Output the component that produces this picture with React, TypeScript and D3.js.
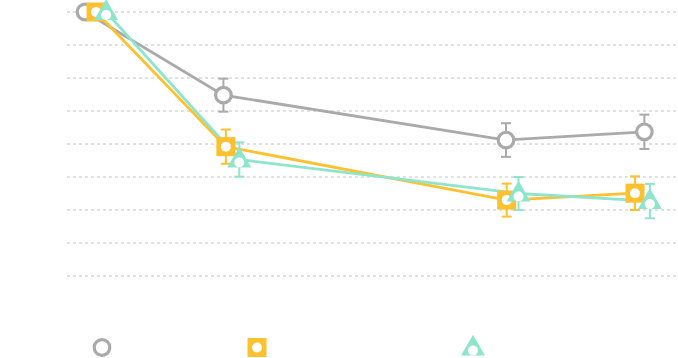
import React from "react";
import * as d3 from "d3";

const gridValues = [0, 1, 2, 3, 4, 5, 6, 7, 8];

const greyX = [2.95, 25.6, 71.85, 94.5];
const greyY = [8.0, 5.48, 4.12, 4.37];
const greyErr = [0, 0.5, 0.51, 0.52];

const yellowX = [4.75, 26.0, 71.96, 92.96];
const yellowY = [8.0, 3.92, 2.3, 2.51];
const yellowErr = [0, 0.52, 0.5, 0.51];

const tealX = [6.4, 28.2, 73.9, 95.4];
const tealY = [8.0, 3.53, 2.5, 2.27];
const tealErr = [0, 0.52, 0.5, 0.52];

const seriesNames = ["A", "B", "C"];
const colors = ["#aaaaaa", "#fdc12f", "#8ee5cc"];

const W = 678;
const H = 358;

export default function App() {
  const x = d3.scaleLinear().domain([0, 100]).range([67, 678]);
  const y = d3.scaleLinear().domain([0, 8]).range([276, 12]);

  const series = [
    { name: seriesNames[0], xs: greyX, ys: greyY, err: greyErr, color: colors[0], shape: "circle" },
    { name: seriesNames[1], xs: yellowX, ys: yellowY, err: yellowErr, color: colors[1], shape: "square" },
    { name: seriesNames[2], xs: tealX, ys: tealY, err: tealErr, color: colors[2], shape: "triangle" },
  ];

  const line = d3
    .line<[number, number]>()
    .x((d) => x(d[0]))
    .y((d) => y(d[1]));

  const marker = (shape: string, color: string, cx: number, cy: number, key: string) => {
    if (shape === "circle") {
      return (
        <circle key={key} cx={cx} cy={cy} r={7.8} fill="#fff" stroke={color} strokeWidth={3.2} />
      );
    }
    if (shape === "square") {
      return (
        <g key={key}>
          <rect x={cx - 9.5} y={cy - 9.5} width={19} height={19} fill={color} />
          <circle cx={cx} cy={cy} r={5} fill="#fff" />
        </g>
      );
    }
    const tri = d3.symbol().type(d3.symbolTriangle).size(250)();
    return (
      <g key={key}>
        <path d={tri || ""} transform={`translate(${cx},${cy + 1})`} fill={color} />
        <circle cx={cx} cy={cy + 3} r={5} fill="#fff" />
      </g>
    );
  };

  const legendX = [102, 257, 473];
  const legendY = 347.5;

  return (
    <div style={{ position: "fixed", left: 0, top: 0 }}>
      <svg width={W} height={H} style={{ display: "block" }}>
        <rect width={W} height={H} fill="#fff" />
        {gridValues.map((g) => (
          <line
            key={g}
            x1={67}
            x2={678}
            y1={y(g)}
            y2={y(g)}
            stroke="#c4c4c4"
            strokeWidth={1}
            strokeDasharray="3,3"
          />
        ))}
        {series.map((s) => (
          <path
            key={"l" + s.name}
            d={line(s.xs.map((v, i) => [v, s.ys[i]] as [number, number])) || ""}
            fill="none"
            stroke={s.color}
            strokeWidth={2.8}
          />
        ))}
        {series.map((s) =>
          s.xs.map((v, i) =>
            s.err[i] > 0 ? (
              <g key={"e" + s.name + i} stroke={s.color} strokeWidth={2}>
                <line x1={x(v)} x2={x(v)} y1={y(s.ys[i] + s.err[i])} y2={y(s.ys[i] - s.err[i])} />
                <line x1={x(v) - 5} x2={x(v) + 5} y1={y(s.ys[i] + s.err[i])} y2={y(s.ys[i] + s.err[i])} />
                <line x1={x(v) - 5} x2={x(v) + 5} y1={y(s.ys[i] - s.err[i])} y2={y(s.ys[i] - s.err[i])} />
              </g>
            ) : null
          )
        )}
        {series.map((s) =>
          s.xs.map((v, i) => marker(s.shape, s.color, x(v), y(s.ys[i]), "m" + s.name + i))
        )}
        {series.map((s, i) => marker(s.shape, s.color, legendX[i], legendY, "lg" + s.name))}
      </svg>
    </div>
  );
}
